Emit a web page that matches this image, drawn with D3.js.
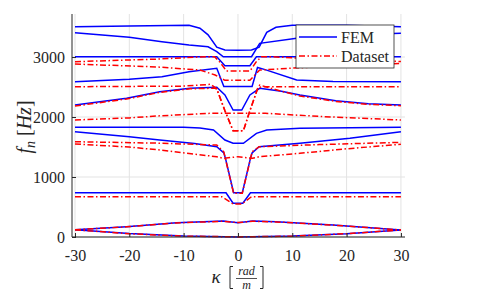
<!DOCTYPE html>
<html>
<head>
<meta charset="utf-8">
<script src="https://cdn.jsdelivr.net/npm/d3@7"></script>
<style>
  body { margin: 0; background: #fff; }
  text { font-family: "Liberation Serif", "DejaVu Serif", serif; fill: #262626; }
</style>
</head>
<body>
<svg id="chart" width="486" height="291"></svg>
<script>
// tick values
let xTicks = [-30, -20, -10, 0, 10, 20, 30]
let yTicks = [0, 1000, 2000, 3000]

// FEM curves, [kappa, f] pairs
let fem1 = [[-30,3505],[-20,3515],[-9,3530],[-7,3480],[-5.5,3370],[-3.9,3165],[-2.4,3117],[0,3112],[2.5,3117],[3.9,3165],[5.3,3410],[7,3495],[10,3530],[20,3530],[30,3505]]
let fem2 = [[-30,3405],[-20,3330],[-14,3255],[-9,3200],[-5.5,3170],[-3.9,3090],[-2.7,3005],[2.5,3005],[4,3228],[10.8,3312],[20,3365],[30,3395]]
let fem3 = [[-30,3005],[-3.9,3005],[-2.4,2855],[2.2,2855],[3.4,3005],[30,3005]]
let fem4 = [[-30,2588],[-20,2630],[-14,2672],[-9,2755],[-3.9,2812],[-2.6,2510],[2.6,2510],[3.6,2825],[5,2790],[10.8,2617],[17.5,2590],[30,2588]]
let fem5 = [[-30,2200],[-20.5,2312],[-14.4,2422],[-8.8,2478],[-3.9,2495],[-2.4,2367],[-0.9,2117],[0.7,2117],[2.2,2367],[4,2478],[8,2430],[11.4,2367],[18,2270],[24,2220],[30,2200]]
let fem6 = [[-30,1828],[-10,1828],[-7,1815],[-4.5,1785],[-2.4,1617],[-0.9,1562],[1,1562],[3.4,1728],[5.3,1783],[11.4,1812],[30,1828]]
let fem7 = [[-30,1755],[-20,1670],[-14.4,1617],[-8,1560],[-3.9,1505],[-2.6,1400],[-2.3,1310],[-0.8,738],[0.8,738],[2.3,1310],[2.6,1400],[3.9,1505],[11.4,1562],[20.6,1645],[30,1755]]
let fem8 = [[-30,738],[-2.2,738],[-0.9,562],[0.9,562],[2.3,738],[30,738]]
let fem9 = [[-30,122],[-20.5,172],[-11.3,238],[-2.7,265],[0,238],[2.7,265],[7,255],[17.5,200],[30,117]]
let fem10 = [[-30,122],[-20,58],[-10,15],[0,0],[10,15],[20,55],[30,117]]

// Dataset curves
let ds1 = [[-30,2922],[-15,2965],[-6,3005],[-4.3,3005],[-3.3,2912],[-2.1,2765],[2.2,2765],[3.3,2912],[4.3,3005],[6,3005],[15,2965],[30,2925]]
let ds2 = [[-30,2883],[-15,2835],[-7,2783],[-4.2,2700],[-2.4,2612],[2.2,2612],[4,2783],[15,2840],[30,2895]]
let ds3 = [[-30,2505],[-10,2515],[-5,2545],[-3.9,2470],[-2.4,2105],[-0.9,1772],[1,1772],[2.2,2105],[3.7,2495],[5,2505],[30,2505]]
let ds4 = [[-30,2183],[-20.5,2300],[-14.4,2410],[-8.8,2470],[-4.2,2480],[-3.9,2467],[-2.4,2105],[-0.9,1772],[1,1772],[2.2,2105],[3.7,2495],[4,2533],[8,2430],[11.4,2350],[18,2260],[24,2210],[30,2188]]
let ds5 = [[-30,1950],[-20,1985],[-14.4,2020],[-5,2062],[0,2062],[5,2062],[15,2010],[30,1950]]
let ds6 = [[-30,1588],[-15,1565],[-3.9,1533],[-2.6,1420],[-2.3,1300],[-0.8,728],[0.8,728],[2.3,1300],[2.6,1420],[3.9,1505],[15,1540],[30,1578]]
let ds7 = [[-30,1550],[-20,1500],[-14.4,1450],[-3.9,1338],[-2.7,1312],[0,1338],[2.7,1312],[3.9,1338],[11.4,1395],[20,1470],[30,1545]]
let ds8 = [[-30,672],[-3,672],[-0.9,550],[0.7,550],[2.5,672],[30,672]]
let ds9 = [[-30,120],[-20.5,170],[-11.3,235],[-2.7,262],[0,240],[2.7,262],[7,252],[17.5,198],[30,117]]
let ds10 = [[-30,120],[-20,55],[-10,14],[0,2],[10,14],[20,55],[30,117]]

let femCurves = [fem1, fem2, fem3, fem4, fem5, fem6, fem7, fem8, fem9, fem10]
let dsCurves = [ds1, ds2, ds3, ds4, ds5, ds6, ds7, ds8, ds9, ds10]

let svg = d3.select("#chart")
let pLeft = 72, pRight = 405, pTop = 14, pBottom = 237
let serif = "Liberation Serif"

let xScale = d3.scaleLinear().domain([-30.55, 30.75]).range([pLeft, pRight])
let yScale = d3.scaleLinear().domain([0, 3717]).range([pBottom, pTop])

// grid
let grid = svg.append("g")
grid.selectAll(".gx").data(xTicks).enter().append("line")
    .attr("x1", d => xScale(d)).attr("x2", d => xScale(d))
    .attr("y1", pTop).attr("y2", pBottom)
    .attr("stroke", "#e3e3e3").attr("stroke-width", 1)
grid.selectAll(".gy").data(yTicks).enter().append("line")
    .attr("x1", pLeft).attr("x2", pRight)
    .attr("y1", d => yScale(d)).attr("y2", d => yScale(d))
    .attr("stroke", "#e3e3e3").attr("stroke-width", 1)

let line = d3.line().x(d => xScale(d[0])).y(d => yScale(d[1]))

svg.append("g").selectAll("path").data(femCurves).enter().append("path")
    .attr("d", line)
    .attr("fill", "none")
    .attr("stroke", "#0000ff")
    .attr("stroke-width", 1.5)

svg.append("g").selectAll("path").data(dsCurves).enter().append("path")
    .attr("d", line)
    .attr("fill", "none")
    .attr("stroke", "#ff0000")
    .attr("stroke-width", 1.5)
    .attr("stroke-dasharray", "6,2.5,1.5,2.5")

// axes (plain hyphen for negatives, no thousands comma)
let xAxis = d3.axisBottom(xScale).tickValues(xTicks).tickSizeInner(-4).tickSizeOuter(0)
    .tickFormat(d => String(d))
let xg = svg.append("g").attr("transform", `translate(0,${pBottom})`).call(xAxis)
let yAxis = d3.axisLeft(yScale).tickValues(yTicks).tickSizeInner(-4).tickSizeOuter(0)
    .tickFormat(d => String(d))
let yg = svg.append("g").attr("transform", `translate(${pLeft},0)`).call(yAxis)

for (let g of [xg, yg]) {
    g.attr("font-family", serif).attr("font-size", 16)
    g.select(".domain").attr("stroke", "#262626")
    g.selectAll(".tick line").attr("stroke", "#262626")
    g.selectAll("text").attr("font-family", serif).attr("font-size", 16).attr("fill", "#262626")
}
yg.selectAll("text").attr("x", -7).attr("dy", "0.33em")
xg.selectAll("text").attr("y", 13).attr("dy", "0.71em")
// bottom axis line runs to the right edge, no box
xg.select(".domain").attr("d", `M${pLeft},0H${pRight}`)
yg.select(".domain").attr("d", `M0,${pTop}V${pBottom}`)

// y label
let ylab = svg.append("text")
    .attr("transform", `translate(31,127) rotate(-90)`)
    .attr("text-anchor", "middle")
    .attr("font-family", serif)
    .attr("font-size", 20)
ylab.append("tspan").attr("font-style", "italic").text("f")
ylab.append("tspan").attr("font-style", "italic").attr("dy", 4).attr("font-size", 14).text("n")
ylab.append("tspan").attr("dy", -4).text(" [")
ylab.append("tspan").attr("font-style", "italic").text("Hz")
ylab.append("tspan").text("]")

// x label
svg.append("text").attr("x", 216).attr("y", 283).attr("text-anchor", "middle")
    .attr("font-style", "italic").attr("font-size", 19).text("κ")
svg.append("path").attr("d", "M233,266.5H230V288.5H233").attr("fill", "none").attr("stroke", "#262626").attr("stroke-width", 1)
svg.append("path").attr("d", "M260,266.5H263V288.5H260").attr("fill", "none").attr("stroke", "#262626").attr("stroke-width", 1)
svg.append("text").attr("x", 246.5).attr("y", 275).attr("text-anchor", "middle")
    .attr("font-style", "italic").attr("font-size", 12).text("rad")
svg.append("line").attr("x1", 236).attr("x2", 257).attr("y1", 278.5).attr("y2", 278.5)
    .attr("stroke", "#262626").attr("stroke-width", 0.8)
svg.append("text").attr("x", 246.5).attr("y", 288.5).attr("text-anchor", "middle")
    .attr("font-style", "italic").attr("font-size", 12).text("m")

// legend
let legend = svg.append("g")
legend.append("rect").attr("x", 296).attr("y", 25).attr("width", 98).attr("height", 43)
    .attr("fill", "#fff").attr("stroke", "#262626").attr("stroke-width", 0.8)
let items = [{name: "FEM", color: "#0000ff", dash: null, y: 37},
             {name: "Dataset", color: "#ff0000", dash: "6,2.5,1.5,2.5", y: 56}]
items.forEach(it => {
    legend.append("line").attr("x1", 299).attr("x2", 337).attr("y1", it.y).attr("y2", it.y)
        .attr("stroke", it.color).attr("stroke-width", 1.5)
        .attr("stroke-dasharray", it.dash)
    legend.append("text").attr("x", 341).attr("y", it.y + 6).attr("font-size", 16).text(it.name)
})
</script>
</body>
</html>
